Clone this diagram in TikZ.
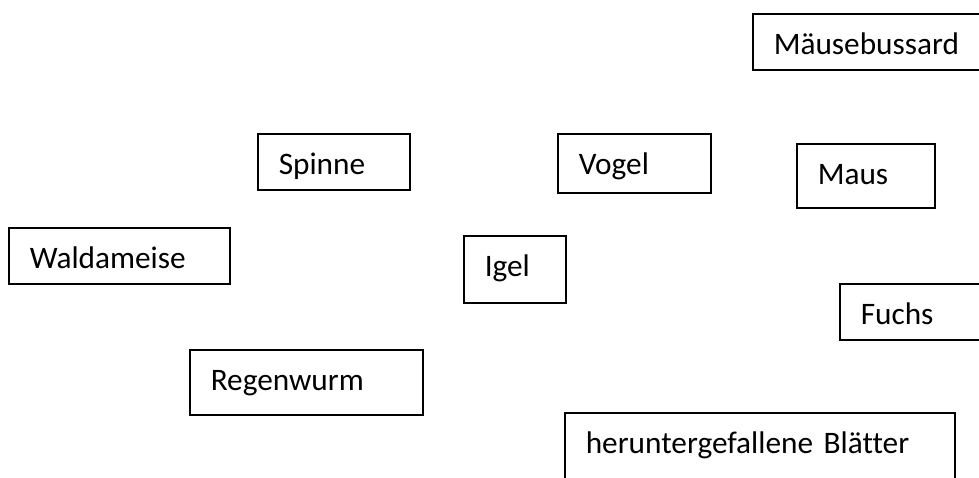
\documentclass[tikz,border=0pt]{standalone}
\usepackage{fontspec}
\setmainfont[Ligatures=NoCommon]{Carlito}
\begin{document}
\begin{tikzpicture}[x=1pt,y=-1pt,
  animalbox/.style={draw=black, line width=1.5pt, anchor=north west, inner ysep=0pt, inner xsep=21pt,
    align=left, text height=40.5pt, font=\fontsize{31.3}{36}\selectfont}]
\useasboundingbox (0,0) rectangle (979,477);
\clip (0,0) rectangle (979,477);
\fill[white] (0,0) rectangle (979,477);
\node[animalbox, text width=218pt, text depth=15.5pt] (bussard) at (752,13) {Mäusebussard};
\node[animalbox, text width=110pt, text depth=15.5pt] (spinne) at (257,133) {Spinne};
\node[animalbox, text width=111pt, text depth=18.5pt] (vogel) at (557,133) {Vogel};
\node[animalbox, text width=96pt, text depth=23.5pt] (maus) at (796,143) {Maus};
\node[animalbox, text width=179pt, text depth=15.5pt] (ameise) at (8,227) {Waldameise};
\node[animalbox, text width=60pt, text depth=26.5pt] (igel) at (463,235) {Igel};
\node[animalbox, text width=128pt, text depth=15.5pt] (fuchs) at (839,283) {Fuchs};
\node[animalbox, text width=191pt, text depth=24.5pt] (wurm) at (189,349) {Regenwurm};
\node[animalbox, text width=348pt, text depth=49.5pt] (blaetter) at (564,412) {heruntergefallene Blätter};
\end{tikzpicture}
\end{document}
